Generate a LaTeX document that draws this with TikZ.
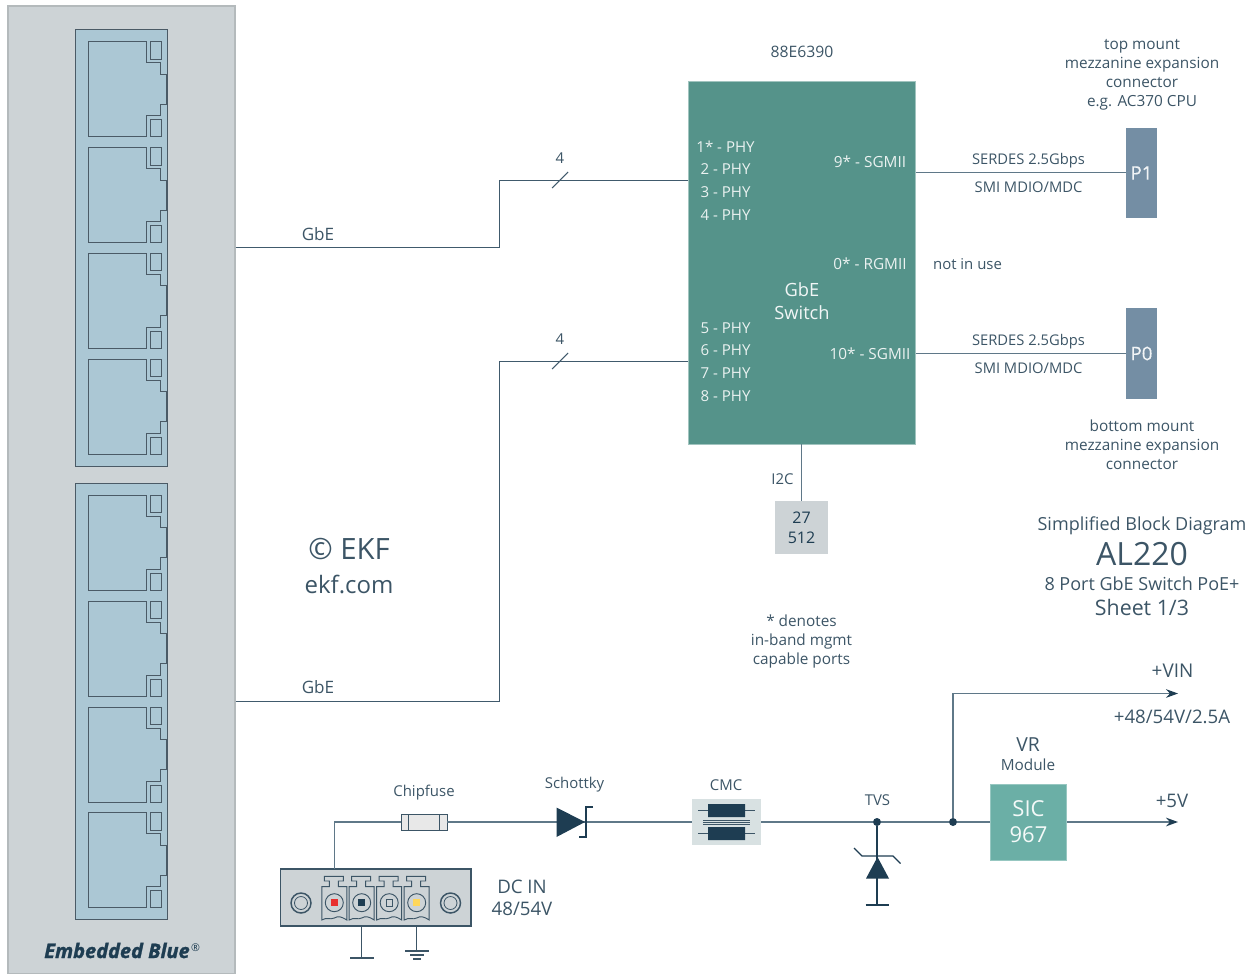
\documentclass[tikz,border=0pt]{standalone}
\usepackage{fontspec}
\usepackage{xcolor}
\usetikzlibrary{arrows.meta}
\setmainfont{Open Sans}
\newfontfamily\brandfont[BoldItalicFeatures={FakeBold=1.4}]{Open Sans}
\newfontfamily\portfont[FakeBold=.5]{Open Sans}
\definecolor{ink}{HTML}{3C5566}
\definecolor{navy}{HTML}{1E3D52}
\definecolor{wire}{HTML}{5F7888}
\definecolor{panel}{HTML}{CDD3D6}
\definecolor{jack}{HTML}{ABC7D4}
\definecolor{jackline}{HTML}{4A5A66}
\definecolor{switchgreen}{HTML}{55938A}
\definecolor{sicgreen}{HTML}{6BAFA6}
\definecolor{steel}{HTML}{748EA4}
\def\fs#1{\fontsize{#1}{#1}\selectfont}
\def\lh#1{\fontsize{#1}{14.25}\selectfont}
% sizes below are in reference pixels
\tikzset{
  txt/.style={text=ink,inner sep=0pt,align=center,font=\lh{11.2}},
  wide/.style={txt,font=\lh{11.5}},
  big/.style={text=ink,inner sep=0pt,align=center,font=\fs{14}},
  inbox/.style={text=white!88!switchgreen,inner sep=0pt,align=center,font=\fs{11.3}},
  wired/.style={draw=wire,line width=1pt},
  thin wired/.style={draw=navy!85!white,line width=.8pt},
  tipped/.style={wired,-{Stealth[length=9pt,width=6.5pt,color=navy]}},
  block/.style={inner sep=0pt,minimum width=#1*.75pt},
  dotnode/.style={circle,fill=navy,inner sep=0pt,minimum size=6pt},
  symbol/.style={draw=navy,line width=.9pt},
}
\begin{document}
\begin{tikzpicture}[x=.75pt,y=-.75pt]
\useasboundingbox (0,0) rectangle (1256,974);
% left panel with the jacks
\node (panel) [block=227,minimum height=967.5*.75pt,fill=panel,draw=black!12!panel,line width=.8pt] at (121.5,489.75) {};
\foreach \top/\bot/\name in {29.5/466.5/jackA,483.5/919.5/jackB}
  \draw[fill=jack,draw=jackline,line width=.8pt] (75.5,\top) rectangle (167.5,\bot);
\foreach \py in {41.5,147.5,253,359,495,601,707,812.5}{
  \begin{scope}[shift={(0,\py)},draw=jackline,line width=.6pt]
    \draw (88,0) -- (146.5,0) -- (146.5,21) -- (160,21) -- (160,32.5) -- (166,32.5) -- (166,62.5) -- (160,62.5) -- (160,74) -- (146.5,74) -- (146.5,95) -- (88,95) -- cycle;
    \draw (150,0) rectangle (161,17.5);
    \draw (150,78) rectangle (161,95);
  \end{scope}
}
\node (brand) [inner sep=0pt,text=navy,font=\fontsize{15}{15}\brandfont\bfseries\itshape] at (117,950.5) {Embedded Blue};
\node (regmark) [inner sep=0pt,text=navy,font=\fs{8}] at (195.5,947.5) {®};
\node (copyr) [big,font=\fs{22}] at (349,549) {© EKF};
\node (site) [big,font=\fs{18}] at (349,584.5) {ekf.com};
% switch
\node (switch) [block=227.5,minimum height=363*.75pt,fill=switchgreen,draw=white!45!switchgreen,line width=.7pt] at (801.75,262.5) {};
\node (swname) [inbox,font=\fontsize{13.7}{17.2}\selectfont,text=white!92!switchgreen] at (802,301) {GbE\\Switch};
\node (chip) [txt,font=\fs{11.8}] at (802,52) {88E6390};
\node (ph1) [inbox] at (725.5,146.5) {1* - PHY};
\node (ph2) [inbox] at (725.5,169.5) {2 - PHY};
\node (ph3) [inbox] at (725.5,192) {3 - PHY};
\node (ph4) [inbox] at (725.5,215) {4 - PHY};
\node (ph5) [inbox] at (725.5,328) {5 - PHY};
\node (ph6) [inbox] at (725.5,350) {6 - PHY};
\node (ph7) [inbox] at (725.5,373) {7 - PHY};
\node (ph8) [inbox] at (725.5,396) {8 - PHY};
\node (sg9) [inbox,font=\fs{11.5}] at (870,161.5) {9* - SGMII};
\node (rg0) [inbox,font=\fs{11.5}] at (870,263.5) {0* - RGMII};
\node (sg10) [inbox,font=\fs{11.5}] at (870,353.5) {10* - SGMII};
\node (unused) [txt] at (967.5,264) {not in use};
% mezzanine connectors
\node (pone) [block=31,minimum height=90*.75pt,fill=steel,text=white!90!steel,font=\fontsize{14}{14}\portfont] at (1141.5,173) {P1};
\node (pzero) [block=31,minimum height=91*.75pt,fill=steel,text=white!90!steel,font=\fontsize{14}{14}\portfont] at (1141.5,353.5) {P0};
\node (topmezz) [wide] at (1142,74.5) {top mount\\mezzanine expansion\\connector\\e.g. AC370 CPU};
\node (botmezz) [wide] at (1142,444.5) {bottom mount\\mezzanine expansion\\connector};
\draw[wired] (switch.east |- 0,172.5) -- (pone.west |- 0,172.5);
\draw[wired] (switch.east |- pzero) -- (pzero.west);
\node (serA) [txt,font=\fs{11.05}] at (1028.5,160.5) {SERDES 2.5Gbps};
\node (smiA) [txt,font=\fs{11.05}] at (1028.5,187.5) {SMI MDIO/MDC};
\node (serB) [txt,font=\fs{11.05}] at (1028.5,342) {SERDES 2.5Gbps};
\node (smiB) [txt,font=\fs{11.05}] at (1028.5,368.5) {SMI MDIO/MDC};
% GbE lanes
\coordinate (laneA) at (panel.east |- 0,247.5);
\coordinate (laneB) at (panel.east |- 0,701.5);
\coordinate (swA) at (switch.west |- 0,180.5);
\coordinate (swB) at (switch.west |- 0,361.5);
\draw[thin wired] (laneA) -| (499.5,180.5) -- (swA);
\draw[thin wired] (laneB) -| (499.5,361.5) -- (swB);
\coordinate (slashA) at (560,180);
\coordinate (slashB) at (560,361);
\draw[thin wired] ([shift={(-8,8)}]slashA) -- ([shift={(8,-8)}]slashA);
\draw[thin wired] ([shift={(-8,8)}]slashB) -- ([shift={(8,-8)}]slashB);
\node (countA) [txt] at (560,158) {4};
\node (countB) [txt] at (560,339) {4};
\node (gbeA) [txt,font=\fs{12.8}] at (318,234) {GbE};
\node (gbeB) [txt,font=\fs{12.8}] at (318,687) {GbE};
% eeprom
\node (eeprom) [block=53,minimum height=53*.75pt,fill=panel,txt,text=navy,font=\fontsize{12}{15}\selectfont] at (801.5,527.5) {27\\512};
\draw[wired] (switch.south -| eeprom) -- (eeprom.north);
\node (itwoc) [txt] at (782.5,479) {I2C};
\node (mgmt) [wide] at (801.5,642) {* denotes\\in-band mgmt\\capable ports};
% title
\node (simple) [txt,font=\fs{13.5}] at (1142,525.5) {Simplified Block Diagram};
\node (altwo) [big,font=\fs{24}] at (1142,554.5) {AL220};
\node (eightp) [txt,font=\fs{13.5}] at (1142,584) {8 Port GbE Switch PoE+};
\node (sheet) [txt,font=\fs{16}] at (1142,607.5) {Sheet 1/3};
% power path
\node (dcin) [block=190.5,minimum height=57*.75pt,fill=panel,draw=ink,line width=.9pt] at (375.75,897.5) {};
\node (fuse) [block=46,minimum height=16*.75pt,fill=black!9!white,draw=ink,line width=.7pt] at (424,822) {};
\node (cmc) [block=69,minimum height=46*.75pt,fill=panel!85!sicgreen!60!white] at (726.5,822) {};
\node (sic) [block=76,minimum height=76*.75pt,fill=sicgreen,draw=sicgreen!70!white,line width=.6pt,text=white!92!sicgreen,align=center,font=\fontsize{16.5}{19.5}\selectfont] at (1028.5,822) {SIC\\967};
\node (tvsdot) [dotnode] at (877,822) {};
\node (vindot) [dotnode] at (953,822) {};
\coordinate (schk) at (570,822);
\coordinate (vinend) at (1178,693.5);
\coordinate (fivend) at (1178,822);
\coordinate (dctap) at (334.5,869);
\draw[wired] (dctap) |- (fuse.west);
\draw[wired] (fuse.east) -- (schk);
\draw[wired] (schk) -- (cmc.west);
\draw[wired] (cmc.east) -- (tvsdot);
\draw[wired] (tvsdot) -- (vindot);
\draw[wired] (vindot) -- (sic.west);
\draw[tipped] (vindot) |- (vinend);
\draw[tipped] (sic.east) -- (fivend);
\draw[draw=ink,line width=.7pt] (408,814) -- (408,830) (439,814) -- (439,830);
% schottky
\fill[navy] (556.5,807.5) -- (556.5,837) -- (585,822) -- cycle;
\draw[draw=navy,line width=1.1pt] (593,807) -- (586,807) -- (586,837) -- (579,837);
% cmc
\draw[draw=ink,line width=.7pt] (698,810.5) -- (755,810.5) (698,833.5) -- (755,833.5);
\fill[navy] (708,804) rectangle (745,817) (708,827) rectangle (745,840);
\draw[draw=ink,line width=.5pt] (703,820) -- (750,820) (703,822) -- (750,822) (703,824) -- (750,824);
% tvs
\coordinate (tvsbase) at (877,905);
\draw[symbol] (tvsdot) -- (tvsbase);
\draw[symbol] (865.5,905) -- (889,905);
\fill[navy] (866,878.5) -- (889,878.5) -- (877.5,857) -- cycle;
\draw[symbol] (854,848) -- (862,856) -- (893,856) -- (900.5,863.5);
% terminal block
\foreach \cx in {334.3,361.7,389.2,416.7}{
  \begin{scope}[shift={(\cx,0)},draw=ink,line width=.7pt]
    \draw (-12.5,886.7) -- (-5,886.7) -- (-5,881) -- (-10,881) -- (-10,876.3) -- (9,876.3) -- (9,881) -- (4,881) -- (4,886.7) -- (12.5,886.7) -- (12.5,920) .. controls (6,916) and (4,916) .. (0,918) .. controls (-4,920) and (-8,917) .. (-12.5,920) -- cycle;
    \draw (0,902.7) circle (9);
  \end{scope}
}
\definecolor{termred}{HTML}{E8302F}
\definecolor{termyel}{HTML}{FFD75A}
\fill[termred] (330.8,899.2) rectangle (337.8,906.2);
\fill[navy] (358.2,899.2) rectangle (365.2,906.2);
\draw[draw=ink,line width=.6pt] (386,899.7) rectangle (392.4,905.9);
\fill[termyel] (413.2,899.2) rectangle (420.2,906.2);
\foreach \cx in {301,450.5}{
  \draw[draw=ink,line width=1.1pt] (\cx,903) circle (10);
  \draw[draw=ink,line width=.6pt] (\cx,903) circle (6.5);
}
\coordinate (gndA) at (361.7,958);
\coordinate (gndB) at (416.7,951);
\draw[wired,draw=ink] (dcin.south -| gndA) -- (gndA);
\draw[wired,draw=ink] (dcin.south -| gndB) -- (gndB);
\draw[draw=ink,line width=1pt] (350,958) -- (373.6,958);
\draw[draw=ink,line width=.9pt] (405,951) -- (429,951) (410,955) -- (424,955) (413,959) -- (421,959);
% power labels
\node (dctxt) [txt,font=\fontsize{14}{16.5}\selectfont] at (522,898) {DC IN\\48/54V};
\node (fusetxt) [txt] at (424,793) {Chipfuse};
\node (schtxt) [txt] at (574.5,785) {Schottky};
\node (cmctxt) [txt] at (726,785.5) {CMC};
\node (tvstxt) [txt] at (877.5,800.5) {TVS};
\node (vrtxt) [txt,font=\fs{14.5}] at (1028,745) {VR};
\node (modtxt) [txt,font=\fs{11.5}] at (1028,765) {Module};
\node (vintxt) [txt,font=\fs{14.2}] at (1172.5,671) {+VIN};
\node (rating) [txt,font=\fs{14}] at (1172,716.5) {+48/54V/2.5A};
\node (fivetxt) [txt,font=\fs{14}] at (1172,801) {+5V};
\end{tikzpicture}
\end{document}
